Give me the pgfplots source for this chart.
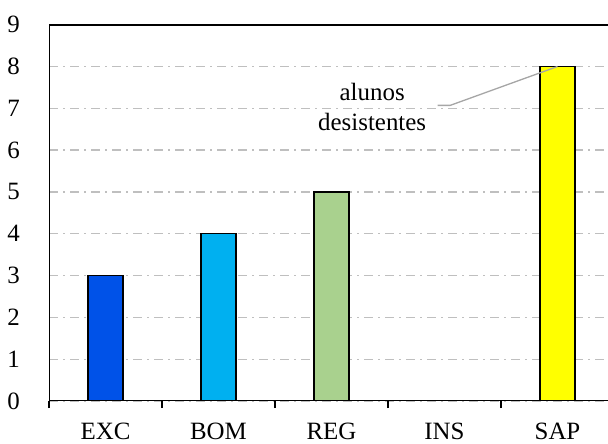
\documentclass[border=0pt]{standalone}
\usepackage{fontspec}
\setmainfont{Liberation Serif}
\usepackage{pgfplots}
\pgfplotsset{compat=1.18}
\definecolor{cexc}{RGB}{0,82,232}
\definecolor{cbom}{RGB}{0,176,240}
\definecolor{creg}{RGB}{169,209,142}
\definecolor{csap}{RGB}{255,255,0}
\definecolor{cgrid}{RGB}{191,191,191}
\definecolor{clead}{RGB}{166,166,166}

\begin{document}
\fontsize{25}{30}\selectfont
\begin{tikzpicture}
  \begin{axis}[
      name=ax,
      scale only axis,
      width=565bp, height=376.3bp,
      xmin=0, xmax=5, ymin=0, ymax=9,
      axis line style={draw=none},
      ytick={0,...,9},
      ymajorgrids,
      major grid style={cgrid, line width=1.3bp, dash pattern=on 9bp off 5bp on 2bp off 5bp},
      ytick style={draw=none},
      xtick={0,...,5},
      xtick pos=bottom,
      ytick pos=left,
      x tick label as interval,
      xticklabels={EXC,BOM,REG,INS,SAP},
      tick align=outside,
      major tick length=7bp,
      xtick style={black, line width=1.5bp},
      ybar, bar width=0.31,
      /pgf/number format/assume math mode=true,
      tick label style={font=\fontsize{25}{30}\selectfont},
      yticklabel style={anchor=east, inner sep=0pt, xshift=-22bp},
      xticklabel style={anchor=north, inner sep=0pt, yshift=-15bp},
    ]
    \addplot[bar shift=0pt, fill=cexc, draw=black, line width=1.3bp] coordinates {(0.5,3)};
    \addplot[bar shift=0pt, fill=cbom, draw=black, line width=1.3bp] coordinates {(1.5,4)};
    \addplot[bar shift=0pt, fill=creg, draw=black, line width=1.3bp] coordinates {(2.5,5)};
    \addplot[bar shift=0pt, fill=white, draw=none] coordinates {(3.5,0)};
    \addplot[bar shift=0pt, fill=csap, draw=black, line width=1.3bp] coordinates {(4.5,8)};
    % frame: left, bottom, top (right side falls outside the picture)
    \draw[black, line width=2bp] (rel axis cs:0,1) -- (rel axis cs:0,0) -- (rel axis cs:1,0);
    \draw[black, line width=2bp] (rel axis cs:0,1) -- (rel axis cs:1,1);
    % annotation
    \node[align=center, inner sep=0pt, font=\fontsize{25}{30}\selectfont] at (axis cs:2.86,7.04) {alunos\\desistentes};
    \draw[clead, line width=1.3bp] (axis cs:3.44,7.07) -- (axis cs:3.55,7.07) -- (axis cs:4.5,8);
  \end{axis}
  \pgfresetboundingbox
  \path[use as bounding box] ([shift={(-49bp,-43bp)}]ax.south west) rectangle ([shift={(559bp,24.7bp)}]ax.north west);
\end{tikzpicture}
\end{document}
